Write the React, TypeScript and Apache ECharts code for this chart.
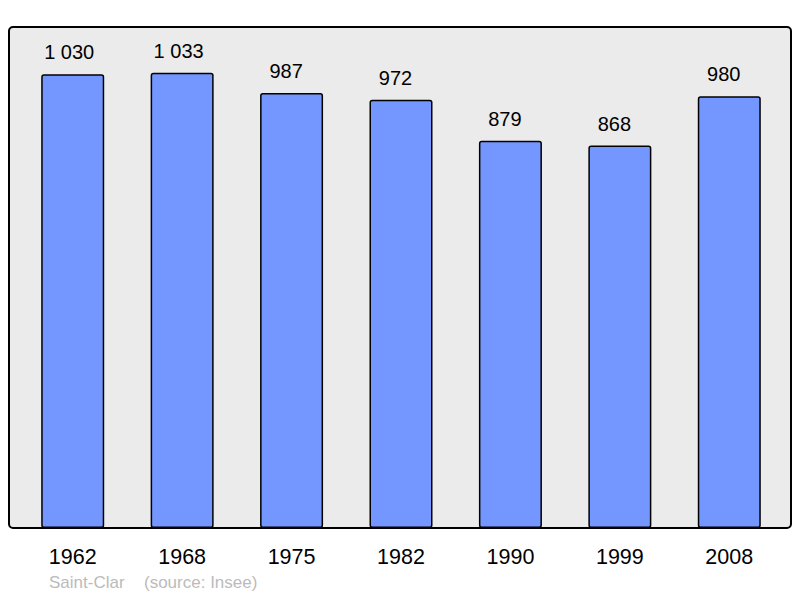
import React, { useEffect, useRef } from "react";
import * as echarts from "echarts";

const years = ["1962", "1968", "1975", "1982", "1990", "1999", "2008"];
const population = [1030, 1033, 987, 972, 879, 868, 980];
const footerPlace = "Saint-Clar";
const footerSource = "(source: Insee)";

const fmt = (v: number) => {
  const s = String(v);
  return s.length > 3 ? s.slice(0, s.length - 3) + " " + s.slice(-3) : s;
};

const FONT = "Liberation Sans, Arial, sans-serif";

export default function App() {
  const ref = useRef<HTMLDivElement>(null);
  useEffect(() => {
    document.body.style.margin = "0";
    const chart = echarts.init(ref.current!, null, { renderer: "svg" });
    const barData = population.map((v) => ({
      value: v,
      label: { offset: [v >= 1000 ? -3.5 : -5.5, 0] },
    }));
    chart.setOption({
      animation: false,
      backgroundColor: "#ffffff",
      textStyle: { fontFamily: FONT },
      grid: { left: 18, width: 766, top: 27, height: 501 },
      xAxis: {
        type: "category",
        data: years,
        axisLine: { show: false },
        axisTick: { show: false },
        axisLabel: {
          color: "#000",
          fontSize: 21.5,
          margin: 18,
          fontFamily: FONT,
        },
      },
      yAxis: {
        type: "value",
        min: 0,
        max: 1137,
        show: false,
        splitLine: { show: false },
      },
      graphic: [
        {
          type: "rect",
          z: 0,
          shape: { x: 9, y: 27, width: 782, height: 501, r: 4 },
          style: { fill: "#ebebeb", stroke: "#000", lineWidth: 2 },
        },
        {
          type: "text",
          z: 10,
          x: 49,
          y: 582,
          style: {
            text: footerPlace,
            fill: "#bbbbbb",
            fontSize: 17,
            fontFamily: FONT,
            verticalAlign: "middle",
          },
        },
        {
          type: "text",
          z: 10,
          x: 144,
          y: 582,
          style: {
            text: footerSource,
            fill: "#bbbbbb",
            fontSize: 17,
            fontFamily: FONT,
            verticalAlign: "middle",
          },
        },
      ],
      series: [
        {
          type: "bar",
          z: 2,
          data: barData,
          barWidth: 63,
          itemStyle: {
            color: "#7396ff",
            borderColor: "#000",
            borderWidth: 1.5,
            borderRadius: 2,
          },
          label: {
            show: true,
            position: "top",
            distance: 12,
            color: "#000",
            fontSize: 20,
            fontFamily: FONT,
            formatter: (p: any) => fmt(p.value),
          },
        },
      ],
    });
    return () => chart.dispose();
  }, []);
  return <div ref={ref} style={{ width: 800, height: 598 }} />;
}
